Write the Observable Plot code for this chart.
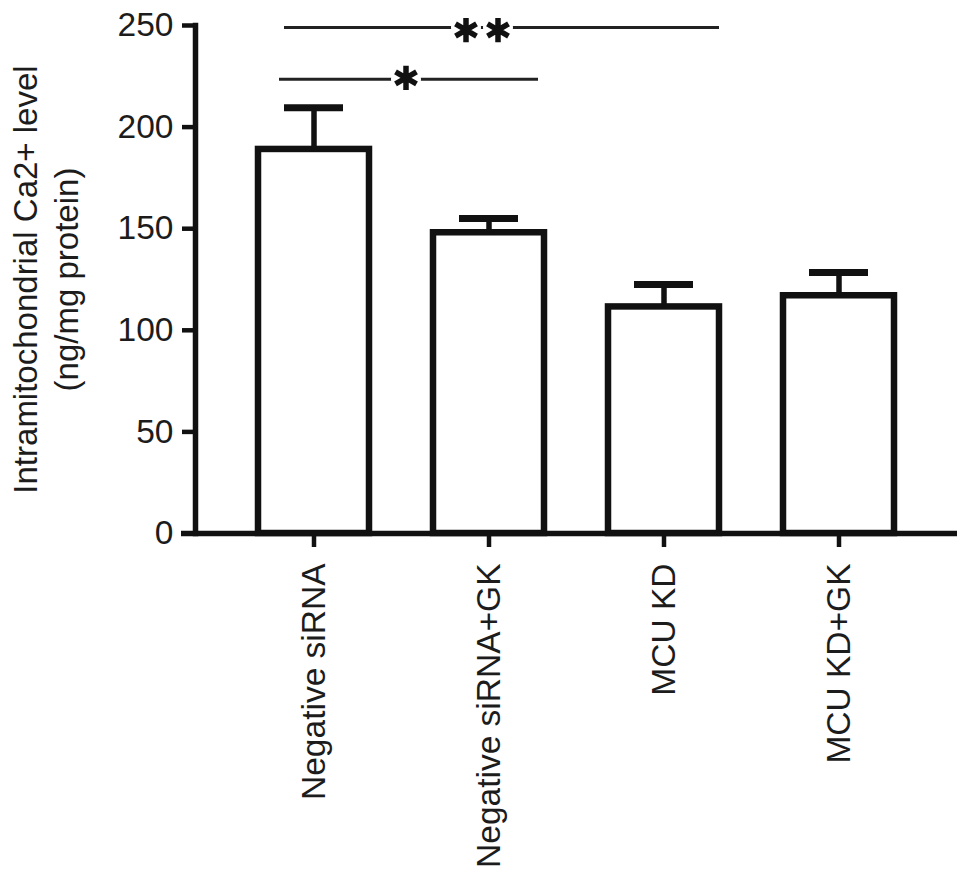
<!DOCTYPE html>
<html>
<head>
<meta charset="utf-8">
<script src="https://cdn.jsdelivr.net/npm/d3@7"></script>
<script src="https://cdn.jsdelivr.net/npm/@observablehq/plot@0.6"></script>
<style>
  html, body { margin: 0; padding: 0; background: white; }
  #chart { width: 969px; height: 878px; }
</style>
</head>
<body>
<div id="chart"></div>
<script>
const categories = ["Negative siRNA", "Negative siRNA+GK", "MCU KD", "MCU KD+GK"];
const means = [189, 148, 111.5, 117];
const upper = [209.5, 155, 122.5, 128.5];
const yTicks = [0, 50, 100, 150, 200, 250];
const yLabel = "Intramitochondrial Ca2+ level\n(ng/mg protein)";

const sigFrom = ["Negative siRNA", "Negative siRNA"];
const sigTo = ["Negative siRNA+GK", "MCU KD"];
const sigY = [223.5, 249];
const sigLabel = ["*", "**"];

const data = categories.map((g, i) => ({group: g, mean: means[i], upper: upper[i]}));
const sig = sigFrom.map((f, i) => ({from: f, to: sigTo[i], y: sigY[i], label: sigLabel[i]}));
const sig1 = sig.filter(d => d.label === "*");
const sig2 = sig.filter(d => d.label === "**");

const ink = "#111";
const textInk = "#1c1c1c";
const starStyle = {symbol: "asterisk", r: 11.5, stroke: ink, strokeWidth: 5.5, fill: "none"};
const haloStyle = {r: 15, fill: "white", stroke: "none"};

const chart = Plot.plot({
  width: 969,
  height: 878,
  marginLeft: 195,
  marginRight: 12,
  marginTop: 25,
  marginBottom: 345,
  style: {fontFamily: "'Liberation Sans', Arial, Helvetica, sans-serif", background: "white", color: textInk},
  x: {domain: categories, paddingInner: 0.366, paddingOuter: 0.36},
  y: {domain: [0, 250]},
  marks: [
    Plot.barY(data, {x: "group", y: "mean", fill: "white", stroke: ink, strokeWidth: 6.5}),
    Plot.ruleX(data, {x: "group", y1: "mean", y2: "upper", stroke: ink, strokeWidth: 5.5}),
    Plot.tickY(data, {x: "group", y: "upper", stroke: ink, strokeWidth: 7, insetLeft: 26, insetRight: 26}),
    Plot.ruleY(sig1, {x1: "from", x2: "to", y: "y", stroke: "#222", strokeWidth: 3, insetLeft: 21, insetRight: 6}),
    Plot.ruleY(sig2, {x1: "from", x2: "to", y: "y", stroke: "#222", strokeWidth: 3, insetLeft: 26, insetRight: 0}),
    // gaps behind the stars
    Plot.dot(sig1, {x: "from", y: "y", dx: 92, ...haloStyle}),
    Plot.dot(sig2, {x: "from", y: "y", dx: 152, ...haloStyle}),
    Plot.dot(sig2, {x: "from", y: "y", dx: 184, ...haloStyle}),
    // stars
    Plot.dot(sig1, {x: "from", y: "y", dx: 92, dy: -1.5, ...starStyle}),
    Plot.dot(sig2, {x: "from", y: "y", dx: 152, dy: 2.5, ...starStyle}),
    Plot.dot(sig2, {x: "from", y: "y", dx: 184, dy: 2.5, ...starStyle}),
    Plot.frame({anchor: "left", stroke: ink, strokeWidth: 5.5}),
    Plot.ruleY([0], {stroke: ink, strokeWidth: 5.5, insetLeft: -14}),
    Plot.axisY({ticks: yTicks, tickSize: 13, tickPadding: 9, stroke: ink, strokeWidth: 4.5, fontSize: 33.5, label: null}),
    Plot.axisX({tickSize: 14, tickPadding: 16, tickRotate: -90, stroke: ink, strokeWidth: 4.5, fontSize: 33.5, label: null}),
    Plot.text([yLabel], {frameAnchor: "left", textAnchor: "middle", lineAnchor: "middle", rotate: -90, dx: -151, fontSize: 33, lineHeight: 1.25, fill: textInk})
  ]
});
document.getElementById("chart").appendChild(chart);
</script>
</body>
</html>
